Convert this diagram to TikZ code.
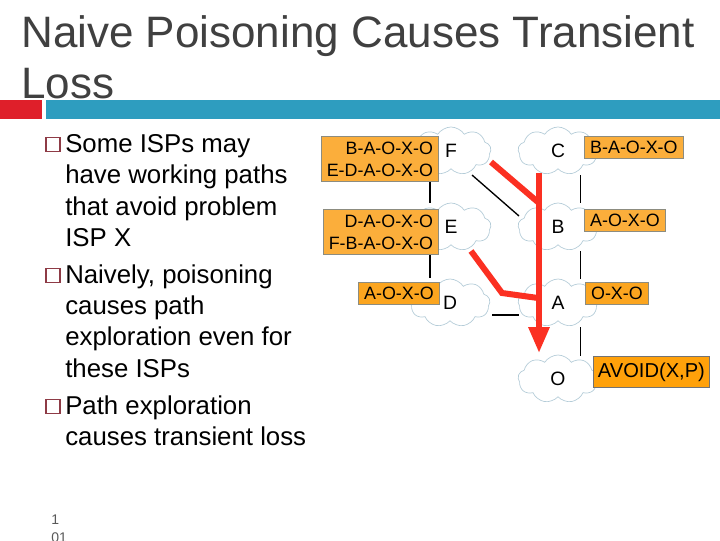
\documentclass[tikz,border=0pt]{standalone}
\usepackage{fontspec}
\setmainfont{Liberation Sans}
\usetikzlibrary{shapes.symbols,arrows.meta}
\definecolor{cloudline}{HTML}{B4CCD8}
\definecolor{lblfill}{HTML}{FBAE3B}
\definecolor{lblfillb}{HTML}{FBA51F}
\definecolor{avoidfill}{HTML}{FFA10A}
\definecolor{lblline}{HTML}{8C8C80}
\definecolor{redpath}{HTML}{FB3022}
\definecolor{titlecol}{HTML}{404040}
\definecolor{barred}{HTML}{DF1F2A}
\definecolor{barblue}{HTML}{2E9DBF}
\definecolor{bulletcol}{HTML}{8E3B46}
\tikzset{
  x=0.75pt,y=-0.75pt,
  cloudnode/.style={cloud,cloud puffs=9,cloud puff arc=115,cloud ignores aspect,draw=cloudline,line width=0.5pt,fill=white,
    minimum width=60pt,minimum height=36pt,inner sep=0pt,font=\fontsize{14.5pt}{15pt}\selectfont,text=black},
  lbl/.style={rectangle,draw=lblline,line width=0.6pt,fill=lblfill,inner sep=0pt,anchor=north west,
    font=\fontsize{13.4pt}{16.5pt}\selectfont,text=black},
  link/.style={draw=black,line width=1pt},
  redline/.style={draw=redpath,line width=4.5pt,line join=miter},
  titletext/.style={anchor=base west,inner sep=0pt,font=\fontsize{33pt}{36pt}\selectfont,text=titlecol},
  bodytext/.style={anchor=base west,inner sep=0pt,font=\fontsize{19.35pt}{22pt}\selectfont,text=black},
  bulletbox/.style={rectangle,draw=bulletcol,line width=0.9pt,fill=white,minimum size=10.5pt,inner sep=0pt},
  pagenum/.style={anchor=base west,inner sep=0pt,font=\fontsize{10.5pt}{11pt}\selectfont,text=black!65},
}
\begin{document}
\begin{tikzpicture}
\useasboundingbox (0,0) rectangle (720,540);
\clip (0,0) rectangle (720,540);
\fill[white] (0,0) rectangle (720,540);
% title and bars
\node[titletext] (t1) at (21,47) {Naive Poisoning Causes Transient};
\node[titletext] (t2) at (21,98) {Loss};
\fill[barred] (0,100) rectangle (42,119);
\fill[barblue] (46,100) rectangle (720,119);
% bullets
\node[bulletbox] (b1) at (53,144.5) {};
\node[bulletbox] (b2) at (53,275.5) {};
\node[bulletbox] (b3) at (53,406.5) {};
\node[bodytext] (l1) at (65,152) {Some ISPs may};
\node[bodytext] (l2) at (65,183) {have working paths};
\node[bodytext] (l3) at (65,215) {that avoid problem};
\node[bodytext] (l4) at (65,246) {ISP X};
\node[bodytext] (l5) at (65,283) {Naively, poisoning};
\node[bodytext] (l6) at (65,314) {causes path};
\node[bodytext] (l7) at (65,345) {exploration even for};
\node[bodytext] (l8) at (65,377) {these ISPs};
\node[bodytext] (l9) at (65,414) {Path exploration};
\node[bodytext] (l10) at (65,445) {causes transient loss};
% page number
\node[pagenum] (p1) at (51,524) {1};
\node[pagenum] (p2) at (51,542) {01};
% clouds
\node[cloudnode] (F) at (451,151) {F};
\node[cloudnode] (E) at (451,227) {E};
\node[cloudnode] (D) at (450,303) {D};
\node[cloudnode] (C) at (558,151) {C};
\node[cloudnode] (B) at (558,227) {B};
\node[cloudnode] (A) at (558,303) {A};
\node[cloudnode] (O) at (558,379) {O};
% links
\draw[link] ([shift={(-21,30)}]F.center) -- ([shift={(-21,-24)}]E.center);
\draw[link] ([shift={(-21,27)}]E.center) -- ([shift={(-20,-25)}]D.center);
\draw[link] ([shift={(22.5,24)}]C.center) -- ([shift={(22.5,-24)}]B.center);
\draw[link] ([shift={(22.5,24)}]B.center) -- ([shift={(22.5,-24)}]A.center);
\draw[link] ([shift={(22.5,24)}]A.center) -- ([shift={(22.5,-23)}]O.center);
\draw[link] ([shift={(42,12)}]D.center) -- ([shift={(-39,12)}]A.center);
\draw[link] ([shift={(21,24)}]F.center) -- ([shift={(-39,-11)}]B.center);
% red paths
\coordinate (bendE) at (502,293);
\draw[redline] ([shift={(40,11)}]F.center) -- ([shift={(-19,-24)}]B.center);
\draw[redline] ([shift={(20,24)}]E.center) -- (bendE) -- ([shift={(-20,-5)}]A.center);
\draw[draw=redpath,line width=4.5pt,-{Triangle[length=26*0.75pt,width=20*0.75pt,fill=redpath]}] ([shift={(-19,22)}]C.center) -- ([shift={(-19,-26)}]O.center);
% labels
\node[lbl,minimum width=87.75pt,minimum height=33.75pt,align=right] (LF) at (321,136) {B-A-O-X-O\\E-D-A-O-X-O};
\node[lbl,minimum width=86.25pt,minimum height=33.75pt,align=right] (LE) at (323,209) {D-A-O-X-O\\F-B-A-O-X-O};
\node[lbl,minimum width=60.75pt,minimum height=16.5pt,fill=lblfillb] (LD) at (358,282) {A-O-X-O};
\node[lbl,minimum width=74.25pt,minimum height=16.5pt] (LC) at (584,136) {B-A-O-X-O};
\node[lbl,minimum width=60.75pt,minimum height=16.5pt] (LB) at (584,209) {A-O-X-O};
\node[lbl,minimum width=47.25pt,minimum height=16.5pt,fill=lblfillb] (LA) at (585,282) {O-X-O};
\node[lbl,minimum width=87pt,minimum height=23.25pt,fill=avoidfill,draw=black!55,font=\fontsize{15.1pt}{16pt}\selectfont] (LO) at (593,356) {AVOID(X,P)};
\end{tikzpicture}
\end{document}
